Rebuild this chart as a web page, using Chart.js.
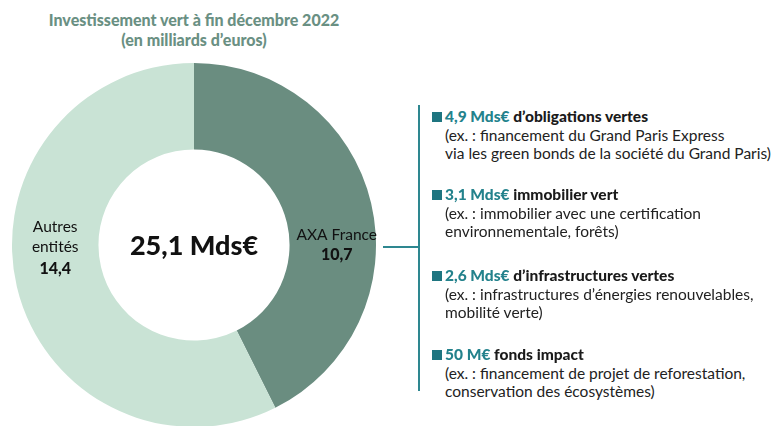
<!DOCTYPE html>
<html lang="fr">
<head>
<meta charset="utf-8">
<script src="https://cdn.jsdelivr.net/npm/chart.js@4/dist/chart.umd.min.js"></script>
<style>
  html, body { margin: 0; padding: 0; background: #fff; width: 773px; height: 426px; overflow: hidden; }
  body { position: relative; font-family: Lato, sans-serif; color: #222; }
  #donut { position: absolute; left: 0; top: 0; }
  .title {
    position: absolute; left: 0; width: 388px; top: 10px;
    text-align: center; font-weight: 900; font-size: 16px; line-height: 20px; color: #6a9083;
  }
  .bracket-v { position: absolute; left: 418px; top: 105px; width: 2px; height: 286px; background: #2e8790; }
  .bracket-h { position: absolute; left: 383px; top: 246px; width: 36px; height: 2px; background: #2e8790; }
  .legend { position: absolute; left: 432px; top: 0; }
  .item { position: absolute; left: 0; width: 340px; font-size: 15.5px; line-height: 18.5px; }
  .item .head { font-weight: 900; color: #1a1a1a; position: relative; }
  .item .head::before {
    content: ''; position: absolute; left: 0; top: 5px; width: 10px; height: 10px; background: #1e7580;
  }
  .item .head, .item .sub { padding-left: 13px; white-space: nowrap; }
  .item .amount { color: #23828c; }
</style>
</head>
<body>
<div class="title">Investissement vert à fin décembre 2022<br>(en milliards d’euros)</div>
<canvas id="donut" width="400" height="430"></canvas>
<div class="bracket-v"></div>
<div class="bracket-h"></div>
<div class="legend" id="legend"></div>

<script>
// Split of the green investment (Mds€)
const entities = ['AXA France', 'Autres entités'];
const entityLabels = [['AXA France'], ['Autres', 'entités']];
const entityValues = [10.7, 14.4];
const entityColors = ['#6a8d80', '#c9e3d5'];
const totalLabel = '25,1 Mds€';

// Detail of AXA France investments
const detailAmounts = ['4,9 Mds€', '3,1 Mds€', '2,6 Mds€', '50 M€'];
const detailTitles = ['d’obligations vertes', 'immobilier vert', 'd’infrastructures vertes', 'fonds impact'];
const detailNotes = [
  ['(ex. : financement du Grand Paris Express', 'via les green bonds de la société du Grand Paris)'],
  ['(ex. : immobilier avec une certification', 'environnementale, forêts)'],
  ['(ex. : infrastructures d’énergies renouvelables,', 'mobilité verte)'],
  ['(ex. : financement de projet de reforestation,', 'conservation des écosystèmes)'],
];
const detailTops = [107, 185, 266, 345];

/**
 * Builds the right hand detail list
 */
function buildLegend() {
  const legend = document.getElementById('legend');
  detailAmounts.forEach((amount, i) => {
    const item = document.createElement('div');
    item.className = 'item';
    item.style.top = detailTops[i] + 'px';
    let html = '<div class="head"><span class="amount">' + amount + '</span> ' + detailTitles[i] + '</div>';
    detailNotes[i].forEach((line) => {
      html += '<div class="sub">' + line + '</div>';
    });
    item.innerHTML = html;
    legend.appendChild(item);
  });
}

// Draws the total in the hole and the labels inside each ring slice
const donutLabels = {
  id: 'donutLabels',
  afterDatasetsDraw(chart) {
    const ctx = chart.ctx;
    const meta = chart.getDatasetMeta(0);
    ctx.save();
    ctx.textAlign = 'center';
    ctx.textBaseline = 'middle';
    ctx.fillStyle = '#111';

    const first = meta.data[0];
    ctx.font = '900 27px Lato, sans-serif';
    ctx.fillText(totalLabel, first.x, first.y + 1);

    meta.data.forEach((arc, i) => {
      const mid = (arc.startAngle + arc.endAngle) / 2;
      const side = Math.cos(mid) >= 0 ? 1 : -1;
      const r = (arc.innerRadius + arc.outerRadius) / 2;
      const x = arc.x + side * (r + (side > 0 ? 4 : 0));
      const lines = entityLabels[i];
      const lh = 20;
      const top = arc.y - ((lines.length) * lh) / 2 + (side > 0 ? 0 : 2);
      ctx.font = '15.5px Lato, sans-serif';
      lines.forEach((line, j) => {
        ctx.fillText(line, x, top + j * lh);
      });
      ctx.font = '900 16px Lato, sans-serif';
      ctx.fillText(entityValues[i].toFixed(1).replace('.', ','), x, top + lines.length * lh + (side > 0 ? 0 : 2));
    });
    ctx.restore();
  },
};

function createDonut() {
  const canvas = document.getElementById('donut');
  return new Chart(canvas.getContext('2d'), {
    type: 'doughnut',
    data: {
      labels: entities,
      datasets: [{
        data: entityValues,
        backgroundColor: entityColors,
        borderWidth: 0,
      }],
    },
    options: {
      responsive: false,
      animation: false,
      cutout: '52.5%',
      layout: { padding: { left: 12, right: 24, top: 63, bottom: 3 } },
      plugins: {
        legend: { display: false },
        tooltip: { enabled: false },
      },
    },
    plugins: [donutLabels],
  });
}

buildLegend();
createDonut();
</script>
</body>
</html>
